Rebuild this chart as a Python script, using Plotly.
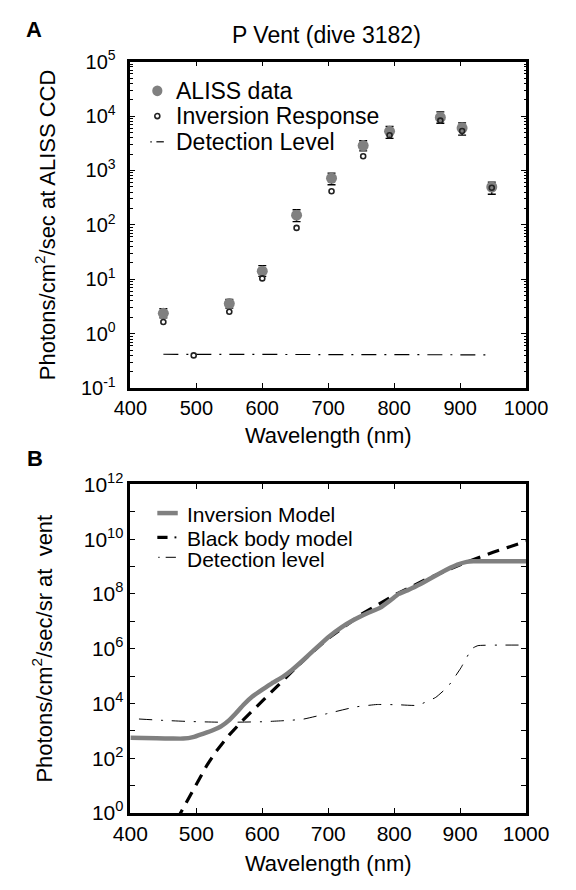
import plotly.graph_objects as go

# ---------------- Panel A data ----------------
filter_wl = [450, 550, 600, 652, 705, 753, 793, 870, 903, 948]
aliss_data = [2.37, 3.58, 14.1, 151, 720, 2865, 5250, 9440, 6010, 497]
aliss_hi = [2.9, 4.26, 17.8, 190, 895, 3515, 6440, 11900, 7500, 611]
aliss_lo = [1.95, 2.95, 11.3, 115, 547, 2300, 3880, 7380, 4450, 366]

inv_wl = [450, 496, 550, 600, 652, 705, 753, 793, 870, 903, 948]
inv_resp = [1.64, 0.40, 2.54, 10.4, 88, 415, 1824, 4450, 8240, 5310, 480]

det_wl_a = [450, 496, 550, 600, 652, 705, 753, 793, 870, 903, 940]
det_a = [0.42, 0.42, 0.42, 0.42, 0.415, 0.415, 0.41, 0.41, 0.41, 0.41, 0.41]

# ---------------- Panel B data ----------------
inv_model_wl = [400, 440, 465, 480, 495, 511, 525, 538, 549, 560, 572, 585, 600,
                615, 630, 645, 661, 680, 700, 720, 737, 760, 779, 795, 807, 820,
                840, 868, 896, 910, 920, 1000]
inv_model = [556, 537, 519, 519, 589, 794, 1047, 1479, 2344, 4365, 9120, 17780,
             31620, 54950, 89130, 1.66e5, 3.63e5, 9.55e5, 2.63e6, 6.03e6, 1.07e7,
             2.0e7, 3.16e7, 6.03e7, 1.0e8, 1.35e8, 2.29e8, 5.5e8, 1.17e9, 1.48e9,
             1.55e9, 1.55e9]

bb_wl = [470, 476, 490, 500, 516, 530, 550, 572, 600, 624, 650, 675, 700, 750,
         800, 850, 900, 950, 1000]
bb_model = [0.54, 1.0, 4.2, 11, 55, 178, 708, 2630, 12600, 47900, 1.9e5, 7.08e5,
            2.4e6, 1.78e7, 8.9e7, 3.55e8, 1.17e9, 3.31e9, 8.3e9]

det_wl_b = [413, 450, 488, 544, 600, 633, 661, 699, 741, 774, 807, 835, 863, 882,
            901, 918, 927, 960, 1000]
det_b = [2690, 2400, 2190, 2040, 2140, 2340, 2630, 4270, 7410, 9120, 8910, 8510,
         16600, 42700, 1.95e5, 1.0e6, 1.29e6, 1.35e6, 1.35e6]

# tick labels
yA_vals = [0.1, 1, 10, 100, 1e3, 1e4, 1e5]
yA_text = ["10<sup>-1</sup>", "10<sup>0</sup>", "10<sup>1</sup>", "10<sup>2</sup>",
           "10<sup>3</sup>", "10<sup>4</sup>", "10<sup>5</sup>"]
yB_vals = [1, 1e2, 1e4, 1e6, 1e8, 1e10, 1e12]
yB_text = ["10<sup>0</sup>", "10<sup>2</sup>", "10<sup>4</sup>", "10<sup>6</sup>",
           "10<sup>8</sup>", "10<sup>10</sup>", "10<sup>12</sup>"]
yB_minor = [10, 1e3, 1e5, 1e7, 1e9, 1e11]
x_vals = [400, 500, 600, 700, 800, 900, 1000]
x_text = ["400", "500", "600", "700", "800", "900", "1000"]

W, H = 576, 890
FONT = "Liberation Sans, Arial, Helvetica, sans-serif"
GRAY = "#808080"


def px(x):
    return x / W


def py(y):
    return 1 - y / H


fig = go.Figure()

# Panel A traces
fig.add_trace(go.Scatter(
    x=det_wl_a, y=det_a, mode="lines", xaxis="x", yaxis="y",
    line=dict(color="black", width=1.2, dash="15px,8px,2px,8px"),
    name="Detection Level", showlegend=False))
fig.add_trace(go.Scatter(
    x=filter_wl, y=aliss_data, mode="markers", xaxis="x", yaxis="y",
    marker=dict(color=GRAY, size=11, line=dict(width=0)),
    error_y=dict(type="data", symmetric=False,
                 array=[h - d for h, d in zip(aliss_hi, aliss_data)],
                 arrayminus=[d - l for d, l in zip(aliss_data, aliss_lo)],
                 color="black", thickness=1.3, width=4),
    name="ALISS data", showlegend=False))
fig.add_trace(go.Scatter(
    x=inv_wl, y=inv_resp, mode="markers", xaxis="x", yaxis="y",
    marker=dict(symbol="circle-open", color="#222222", size=5,
                line=dict(width=1.6, color="#222222")),
    name="Inversion Response", showlegend=False))

# Panel B traces
fig.add_trace(go.Scatter(
    x=det_wl_b, y=det_b, mode="lines", xaxis="x2", yaxis="y2",
    line=dict(color="black", width=1, dash="13px,9px,2px,9px", shape="spline",
              smoothing=0.4),
    name="Detection level", showlegend=False))
fig.add_trace(go.Scatter(
    x=bb_wl, y=bb_model, mode="lines", xaxis="x2", yaxis="y2",
    line=dict(color="black", width=3.2, dash="12px,8px"),
    name="Black body model", showlegend=False))
fig.add_trace(go.Scatter(
    x=inv_model_wl, y=inv_model, mode="lines", xaxis="x2", yaxis="y2",
    line=dict(color=GRAY, width=4.5, shape="spline", smoothing=0.3),
    name="Inversion Model", showlegend=False))

axis_common = dict(showline=True, linewidth=2.5, linecolor="black", mirror="ticks",
                   ticks="inside", tickcolor="black", showgrid=False, zeroline=False)

fontA = dict(family=FONT, size=20, color="black")
fontB = dict(family=FONT, size=21, color="black")
title_font = dict(family=FONT, size=22, color="black")

xdom = [px(121), px(547)]
fig.update_layout(
    width=W, height=H, autosize=False,
    margin=dict(l=0, r=0, t=0, b=0),
    paper_bgcolor="white", plot_bgcolor="white",
    font=dict(family=FONT, color="black", size=20),
    showlegend=False,
    xaxis=dict(domain=xdom, anchor="y", range=[400, 1000], tickmode="array",
               tickvals=x_vals, ticktext=x_text, ticklen=5, tickfont=fontA,
               title=dict(text="Wavelength (nm)", font=title_font, standoff=10),
               **axis_common),
    yaxis=dict(domain=[py(385), py(49)], anchor="x", type="log", range=[-1, 5],
               tickmode="array", tickvals=yA_vals, ticktext=yA_text, ticklen=5,
               tickfont=fontA, ticklabelstandoff=8,
               minor=dict(ticks="inside", ticklen=2.5, tickcolor="black",
                          tickvals=[m * 10 ** k for k in range(-1, 5) for m in range(2, 10)]),
               title=dict(text="Photons/cm<sup>2</sup>/sec at ALISS CCD",
                          font=title_font, standoff=20),
               **axis_common),
    xaxis2=dict(domain=xdom, anchor="y2", range=[400, 1000], tickmode="array",
                tickvals=x_vals, ticktext=x_text, ticklen=5, tickfont=fontB,
                title=dict(text="Wavelength (nm)", font=title_font, standoff=12),
                **axis_common),
    yaxis2=dict(domain=[py(822), py(484)], anchor="x2", type="log", range=[0, 12],
                tickmode="array", tickvals=yB_vals, ticktext=yB_text, ticklen=5,
                tickfont=fontB,
                minor=dict(ticks="inside", ticklen=5, tickcolor="black",
                           tickvals=yB_minor),
                title=dict(text="Photons/cm<sup>2</sup>/sec/sr at  vent",
                           font=title_font, standoff=26),
                **axis_common),
)

annotations = [
    dict(text="P Vent (dive 3182)", x=px(332), y=py(22), size=23),
    dict(text="<b>A</b>", x=px(17), y=py(16), size=22),
    dict(text="<b>B</b>", x=px(18), y=py(457), size=22),
    # legend A
    dict(text="ALISS data", x=px(168), y=py(79), xanchor="left", size=23),
    dict(text="Inversion Response", x=px(168), y=py(105), xanchor="left", size=23),
    dict(text="Detection Level", x=px(168), y=py(131.5), xanchor="left", size=23),
    # legend B
    dict(text="Inversion Model", x=px(180), y=py(515), xanchor="left", size=21),
    dict(text="Black body model", x=px(180), y=py(540), xanchor="left", size=21),
    dict(text="Detection level", x=px(180), y=py(561), xanchor="left", size=21),
]
ann_out = []
for a in annotations:
    ann_out.append(dict(text=a["text"], x=a["x"], y=a["y"], xref="paper", yref="paper",
                        showarrow=False, xanchor=a.get("xanchor", "center"),
                        yanchor="middle",
                        font=dict(family=FONT, color="black", size=a["size"])))
fig.update_layout(annotations=ann_out)

shapes = [
    # legend A symbols
    dict(type="circle", x0=px(144.5), x1=px(155.5), y0=py(84.5), y1=py(73.5),
         fillcolor=GRAY, line=dict(width=0)),
    dict(type="circle", x0=px(147.3), x1=px(152.7), y0=py(107.7), y1=py(102.3),
         fillcolor="white", line=dict(width=1.6, color="#222222")),
    dict(type="line", x0=px(142.5), x1=px(144), y0=py(131.5), y1=py(131.5),
         line=dict(width=1.2, color="black")),
    dict(type="line", x0=px(149), x1=px(157), y0=py(131.5), y1=py(131.5),
         line=dict(width=1.2, color="black")),
    # legend B symbols
    dict(type="line", x0=px(150), x1=px(172), y0=py(513.5), y1=py(513.5),
         line=dict(width=4.5, color=GRAY)),
    dict(type="line", x0=px(150), x1=px(161), y0=py(538.5), y1=py(538.5),
         line=dict(width=3.2, color="black")),
    dict(type="line", x0=px(168.5), x1=px(170.5), y0=py(538.5), y1=py(538.5),
         line=dict(width=2, color="black")),
    dict(type="line", x0=px(151), x1=px(152.5), y0=py(559), y1=py(559),
         line=dict(width=1, color="black")),
    dict(type="line", x0=px(159), x1=px(170), y0=py(559), y1=py(559),
         line=dict(width=1, color="black")),
]
for s in shapes:
    s.update(xref="paper", yref="paper")
fig.update_layout(shapes=shapes)

fig.write_html("out.html")
